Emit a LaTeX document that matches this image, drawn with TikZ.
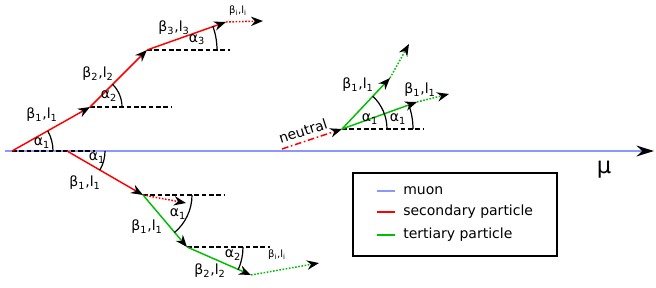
\documentclass[tikz,border=0pt]{standalone}
\usepackage{fontspec}
\setmainfont{DejaVu Sans}
\usetikzlibrary{arrows.meta}
\definecolor{muonblue}{RGB}{140,150,255}
\definecolor{tergreen}{RGB}{0,190,0}
\newcommand{\betaell}[1]{β\textsubscript{#1},l\textsubscript{#1}}
\newcommand{\alphasub}[1]{α\textsubscript{#1}}
\tikzset{
  arrowed/.style={-{Stealth[length=9pt,width=7pt,black]}},
  secondary/.style={red,line width=1.1pt},
  tertiary/.style={tergreen,line width=1.1pt},
  guide/.style={black,line width=0.8pt,dash pattern=on 3.5pt off 2pt},
  dots/.style={line width=1.1pt,dash pattern=on 1.2pt off 1.2pt},
  angmark/.style={black,line width=0.9pt},
  lbl/.style={font=\fontsize{10.5}{12}\selectfont,inner sep=0pt},
  small/.style={font=\fontsize{7.5}{9}\selectfont,inner sep=0pt}
}
\begin{document}
\begin{tikzpicture}[x=0.75pt,y=0.75pt]
\useasboundingbox (0,0) rectangle (656,287);
% muon
\coordinate (mustart) at (5,136);
\coordinate (muend) at (654,136);
\draw[muonblue,line width=2.2pt,-{Stealth[length=13pt,width=8pt,black]}] (mustart) -- (muend);
\node[font=\fontsize{17}{19}\selectfont,inner sep=0pt] (mu) at (604,117) {μ};
% upper chain
\coordinate (O1) at (12,136);
\coordinate (V1) at (90,180);
\coordinate (V2) at (147,237);
\coordinate (V3) at (226,265);
\coordinate (V4) at (263,266);
\draw[guide] (O1) -- (95,136);
\draw[guide] (V1) -- (172,180);
\draw[guide] (V2) -- (230,237);
\draw[secondary,arrowed] (O1) -- (V1);
\draw[secondary,arrowed] (V1) -- (V2);
\draw[secondary,arrowed] (V2) -- (V3);
\draw[red,dots,arrowed] (V3) -- (V4);
\draw[angmark] (O1) ++(41,0) arc[start angle=0,end angle=29,radius=41];
\draw[angmark] (V1) ++(32,0) arc[start angle=0,end angle=45,radius=32];
\draw[angmark] (V2) ++(70,0) arc[start angle=0,end angle=20,radius=70];
\node[lbl] (ua1) at (42,144) {\alphasub{1}};
\node[lbl] (ua2) at (109,191) {\alphasub{2}};
\node[lbl] (ua3) at (197,247) {\alphasub{3}};
\node[lbl] (ub1) at (42,172) {\betaell{1}};
\node[lbl] (ub2) at (98,213) {\betaell{2}};
\node[lbl] (ub3) at (174,259) {\betaell{3}};
\node[small] (ubi) at (238,276) {\betaell{i}};
% lower chain
\coordinate (P0) at (67,136);
\coordinate (P1) at (143,92);
\coordinate (P1d) at (186,84);
\coordinate (P2) at (187,40);
\coordinate (P3) at (251,12);
\coordinate (P4) at (319,24);
\draw[guide] (P1) -- (225,92);
\draw[guide] (P2) -- (270,40);
\draw[secondary,arrowed] (P0) -- (P1);
\draw[red,dots,arrowed] (P1) -- (P1d);
\draw[tertiary,arrowed] (P1) -- (P2);
\draw[tertiary,arrowed] (P2) -- (P3);
\draw[tergreen,dots,arrowed] (P3) -- (P4);
\draw[angmark] (P0) ++(38,0) arc[start angle=0,end angle=-30,radius=38];
\draw[angmark] (P1) ++(49,0) arc[start angle=0,end angle=-50,radius=49];
\draw[angmark] (P2) ++(56,0) arc[start angle=0,end angle=-24,radius=56];
\node[lbl] (la1) at (97,129) {\alphasub{1}};
\node[lbl] (la1b) at (178,73) {\alphasub{1}};
\node[lbl] (la2) at (233,32) {\alphasub{2}};
\node[lbl] (lb1) at (85,104) {\betaell{1}};
\node[lbl] (lb1b) at (147,60) {\betaell{1}};
\node[lbl] (lb2) at (210,16) {\betaell{2}};
\node[small] (lbi) at (277,32) {\betaell{i}};
% neutral
\coordinate (N0) at (282,138);
\coordinate (N1) at (342,158);
\coordinate (G1) at (390,209);
\coordinate (G1e) at (409,243);
\coordinate (G2) at (417,185);
\coordinate (G2e) at (449,193);
\draw[red,line width=1.1pt,dash pattern=on 5pt off 2pt on 1.2pt off 2pt,arrowed] (N0) -- (N1);
\node[lbl,rotate=18] (neut) at (303,156) {neutral};
\draw[guide] (N1) -- (423,158);
\draw[tertiary,arrowed] (N1) -- (G1);
\draw[tergreen,dots,arrowed] (G1) -- (G1e);
\draw[tertiary,arrowed] (N1) -- (G2);
\draw[tergreen,dots,arrowed] (G2) -- (G2e);
\draw[angmark] (N1) ++(45,0) arc[start angle=0,end angle=47,radius=45];
\draw[angmark] (N1) ++(71,0) arc[start angle=0,end angle=20,radius=71];
\node[lbl] (na1) at (370,168) {\alphasub{1}};
\node[lbl] (na1b) at (398,168) {\alphasub{1}};
\node[lbl] (nb1) at (358,202) {\betaell{1}};
\node[lbl] (nb1b) at (420,197) {\betaell{1}};
% legend
\coordinate (boxsw) at (353,31);
\coordinate (boxne) at (557,114);
\draw[black,line width=0.8pt] (boxsw) rectangle (boxne);
\draw[muonblue,line width=1.5pt] (377,96) -- (395,96);
\draw[red,line width=1.1pt] (377,75) -- (395,75);
\draw[tergreen,line width=1.1pt] (377,52) -- (395,52);
\node[lbl,anchor=west] (legmu) at (403,96) {muon};
\node[lbl,anchor=west] (legsec) at (403,75) {secondary particle};
\node[lbl,anchor=west] (leger) at (403,52) {tertiary particle};
\end{tikzpicture}
\end{document}
